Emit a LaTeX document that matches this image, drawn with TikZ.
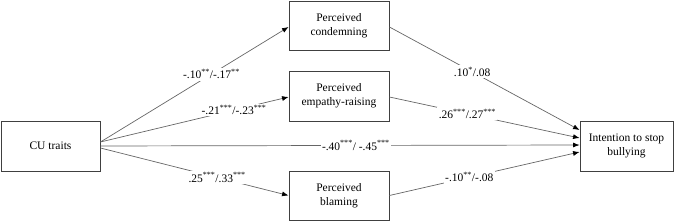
\documentclass[tikz,border=0pt]{standalone}
\usepackage{fontspec}
\setmainfont{Liberation Serif}
\usepackage{tikz}
\usetikzlibrary{arrows.meta,positioning}

\begin{document}
\begin{tikzpicture}[
  x=1pt, y=-1pt,
  box/.style={draw=black!75, line width=0.9pt, align=center, inner sep=0pt,
    minimum width=100pt, minimum height=49pt, font=\fontsize{11.5}{14}\selectfont},
  path/.style={draw=black!60, line width=0.7pt, -{Latex[length=6.5pt,width=5pt,black]}},
  lab/.style={fill=white, inner sep=1.5pt, font=\fontsize{11.5}{14}\selectfont}
]
\useasboundingbox (0,0) rectangle (680,221);
\node[box, minimum width=99pt, minimum height=50pt] (cu) at (50.5,146) {CU traits};
\node[box] (cond) at (339,25.5) {Perceived\\condemning};
\node[box, minimum height=50pt] (emp) at (339,96) {Perceived\\empathy-raising};
\node[box] (blam) at (339,195.5) {Perceived\\blaming};
\node[box, minimum width=93pt, minimum height=50pt] (stop) at (626.5,146) {Intention to stop\\bullying};
% a paths
\draw[path] ([yshift=4pt]cu.east) -- node[lab, pos=0.59] {-.10\textsuperscript{**}/-.17\textsuperscript{**}} ([yshift=-1.5pt]cond.west);
\draw[path] ([yshift=4pt]cu.east) -- node[lab, pos=0.71] {-.21\textsuperscript{***}/-.23\textsuperscript{***}} ([yshift=-1pt]emp.west);
\draw[path] ([yshift=-2pt]cu.east) -- node[lab, pos=0.62] {.25\textsuperscript{***}/.33\textsuperscript{***}} (blam.west);
% direct path
\draw[path] (cu.east) -- node[lab, pos=0.533] {-.40\textsuperscript{***}/ -.45\textsuperscript{***}} ([yshift=1pt]stop.west);
% b paths
\draw[path] ([yshift=-1.5pt]cond.east) -- node[lab, pos=0.435] {.10\textsuperscript{*}/.08} ([yshift=16pt]stop.west);
\draw[path] ([yshift=-1pt]emp.east) -- node[lab, pos=0.41] {.26\textsuperscript{***}/.27\textsuperscript{***}} ([yshift=8pt]stop.west);
\draw[path] (blam.east) -- node[lab, pos=0.42] {-.10\textsuperscript{**}/-.08} ([yshift=-6pt]stop.west);
\end{tikzpicture}
\end{document}
